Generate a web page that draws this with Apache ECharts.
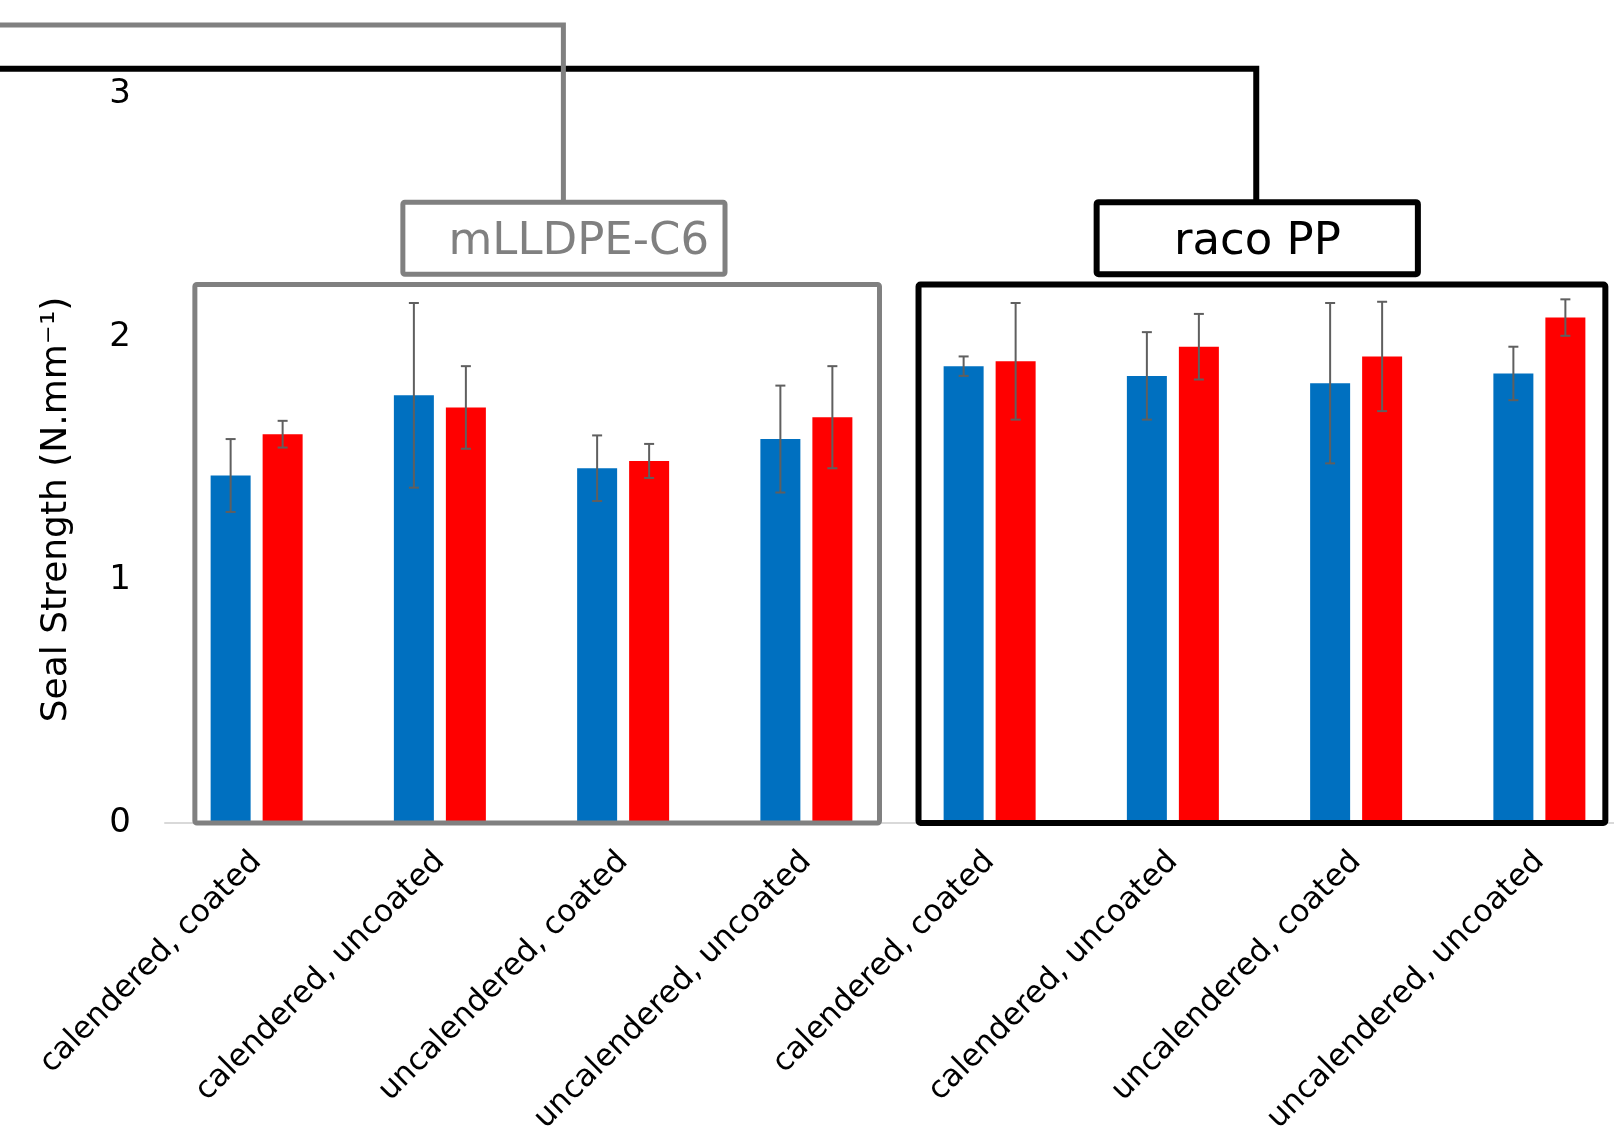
<!DOCTYPE html>
<html>
<head>
<meta charset="utf-8">
<title>Seal Strength</title>
<script src="https://cdn.jsdelivr.net/npm/echarts@6/dist/echarts.min.js"></script>
<style>
  html, body { margin: 0; padding: 0; background: #fff; }
  #chart { width: 1614px; height: 1132px; }
</style>
</head>
<body>
<div id="chart"></div>
<script>
// categories: 4 film treatments, repeated for each sealant material
var categories = [
  'calendered, coated', 'calendered, uncoated', 'uncalendered, coated', 'uncalendered, uncoated',
  'calendered, coated', 'calendered, uncoated', 'uncalendered, coated', 'uncalendered, uncoated'
];
var materials = ['mLLDPE-C6', 'raco PP'];
var yTicks = [0, 1, 2, 3];

// seal strength, N/mm
var blueMean = [1.43, 1.76, 1.46, 1.58, 1.88, 1.84, 1.81, 1.85];
var blueErr  = [0.15, 0.38, 0.135, 0.22, 0.04, 0.18, 0.33, 0.11];
var redMean  = [1.60, 1.71, 1.49, 1.67, 1.90, 1.96, 1.92, 2.08];
var redErr   = [0.055, 0.17, 0.07, 0.21, 0.24, 0.135, 0.225, 0.075];

var FONT = '"DejaVu Sans", Verdana, sans-serif';
var BAR_W = 40, BAR_GAP = 12;
var OFF = (BAR_W + BAR_GAP) / 2;

// keys keep duplicate category names apart
var catKeys = categories.map(function (c, i) { return i + '|' + c; });

function errorBars(offset) {
  return function (params, api) {
    var i = api.value(0), m = api.value(1), e = api.value(2);
    var c = api.coord([i, m]);
    var hi = api.coord([i, m + e]);
    var lo = api.coord([i, m - e]);
    var x = c[0] + offset;
    var cap = 5;
    var st = { stroke: '#5f5f5f', lineWidth: 2 };
    return {
      type: 'group',
      children: [
        { type: 'line', shape: { x1: x, y1: hi[1], x2: x, y2: lo[1] }, style: st },
        { type: 'line', shape: { x1: x - cap, y1: hi[1], x2: x + cap, y2: hi[1] }, style: st },
        { type: 'line', shape: { x1: x - cap, y1: lo[1], x2: x + cap, y2: lo[1] }, style: st }
      ]
    };
  };
}

var chart = echarts.init(document.getElementById('chart'));

var option = {
  animation: false,
  backgroundColor: '#fff',
  textStyle: { fontFamily: FONT },
  // plot runs past the right edge of the picture, like the original crop
  grid: { left: 165, width: 1466, top: 94, bottom: 309, containLabel: false, outerBoundsMode: 'none' },
  xAxis: {
    type: 'category',
    data: catKeys,
    axisLine: { lineStyle: { color: '#d9d9d9', width: 2 } },
    axisTick: { show: false },
    axisLabel: {
      rotate: 45,
      interval: 0,
      margin: 34,
      fontSize: 31,
      color: '#000',
      fontFamily: FONT,
      formatter: function (v) { return v.split('|')[1]; }
    }
  },
  yAxis: {
    type: 'value',
    min: yTicks[0],
    max: yTicks[yTicks.length - 1],
    interval: 1,
    name: 'Seal Strength (N.mm\u207B\u00B9)',
    nameLocation: 'middle',
    nameGap: 90,
    nameTextStyle: { fontSize: 36, color: '#000', fontFamily: FONT, padding: [0, 102, 0, 0] },
    axisLine: { show: false },
    axisTick: { show: false },
    splitLine: { show: false },
    axisLabel: { fontSize: 34, color: '#000', margin: 34, fontFamily: FONT }
  },
  series: [
    {
      name: 'blue', type: 'bar', data: blueMean,
      barWidth: BAR_W, barGap: (BAR_GAP / BAR_W * 100) + '%',
      itemStyle: { color: '#0070c0' }
    },
    {
      name: 'red', type: 'bar', data: redMean,
      barWidth: BAR_W,
      itemStyle: { color: '#ff0000' }
    },
    {
      type: 'custom', z: 5,
      renderItem: errorBars(-OFF),
      encode: { x: 0, y: 1 },
      data: blueMean.map(function (m, i) { return [i, m, blueErr[i]]; })
    },
    {
      type: 'custom', z: 5,
      renderItem: errorBars(OFF),
      encode: { x: 0, y: 1 },
      data: redMean.map(function (m, i) { return [i, m, redErr[i]]; })
    }
  ]
};

chart.setOption(option);

// annotation boxes and connectors, placed through the axes
function cx(u) {
  var a = chart.convertToPixel({ xAxisIndex: 0 }, catKeys[0]);
  var b = chart.convertToPixel({ xAxisIndex: 0 }, catKeys[1]);
  return a + u * (b - a);
}
function vy(v) { return chart.convertToPixel({ yAxisIndex: 0 }, v); }

function groupBox(u0, u1, color, lw) {
  return {
    type: 'rect', z: 10,
    shape: { x: cx(u0), y: vy(2.216), width: cx(u1) - cx(u0), height: vy(0) - vy(2.216), r: 2 },
    style: { fill: null, stroke: color, lineWidth: lw }
  };
}
function labelBox(u0, u1, color, lw) {
  return {
    type: 'rect', z: 10,
    shape: { x: cx(u0), y: vy(2.555), width: cx(u1) - cx(u0), height: vy(2.258) - vy(2.555), r: 2 },
    style: { fill: '#fff', stroke: color, lineWidth: lw }
  };
}
function labelText(u, text, color) {
  return {
    type: 'text', z: 11,
    style: {
      text: text, x: cx(u), y: vy(2.39),
      fill: color, font: '45px ' + FONT, textAlign: 'center', textVerticalAlign: 'middle'
    }
  };
}

var gray = '#808080';
chart.setOption({
  graphic: [
    // black connector sits under the gray one
    {
      type: 'polyline', z: 9,
      shape: { points: [[cx(5.455), vy(2.555)], [cx(5.455), vy(3.104)], [-10, vy(3.104)]] },
      style: { fill: null, stroke: '#000', lineWidth: 6 }
    },
    {
      type: 'polyline', z: 9,
      shape: { points: [[cx(1.674), vy(2.555)], [cx(1.674), vy(3.284)], [-10, vy(3.284)]] },
      style: { fill: null, stroke: gray, lineWidth: 5 }
    },
    groupBox(-0.337, 3.399, gray, 5),
    groupBox(3.612, 7.36, '#000', 6),
    labelBox(0.798, 2.556, gray, 5),
    labelBox(4.584, 6.337, '#000', 6),
    labelText(1.758, materials[0], gray),
    labelText(5.461, materials[1], '#000')
  ]
});
</script>
</body>
</html>
